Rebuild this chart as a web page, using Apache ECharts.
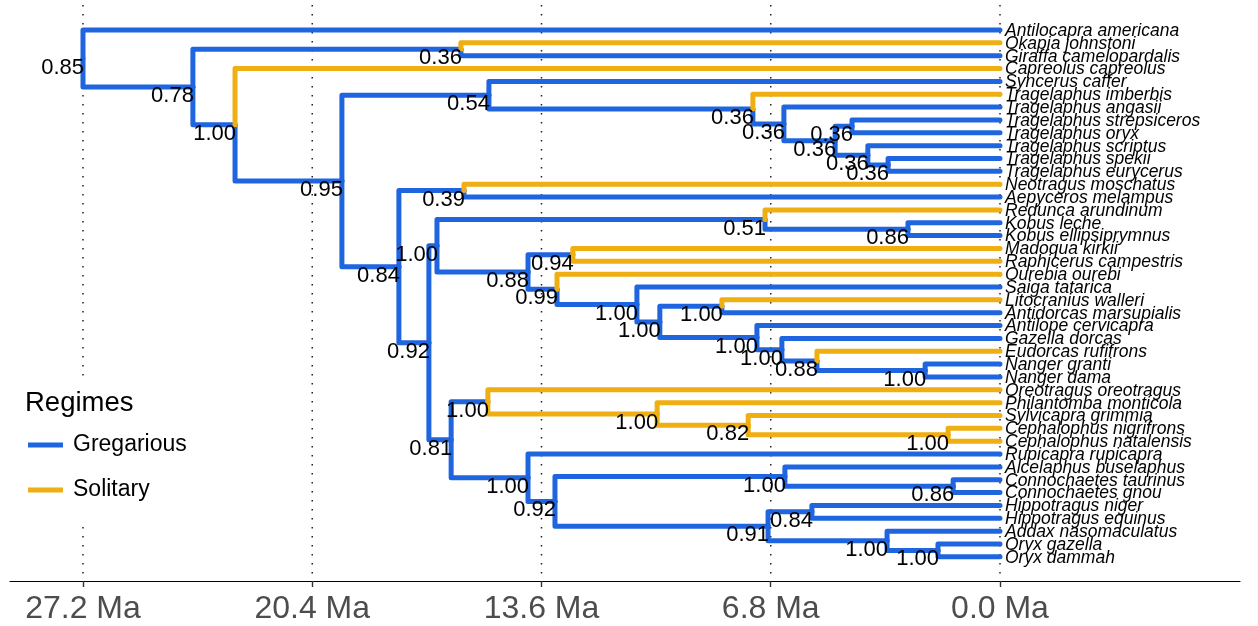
<!DOCTYPE html>
<html>
<head>
<meta charset="utf-8">
<script src="https://cdn.jsdelivr.net/npm/echarts@6/dist/echarts.min.js"></script>
<style>
  html, body { margin: 0; padding: 0; background: #fff; }
  #chart { width: 1258px; height: 626px; }
</style>
</head>
<body>
<div id="chart"></div>
<script>
// Tips, top to bottom, with their social regime (G = gregarious, S = solitary)
const tipNames = [
  'Antilocapra americana', 'Okapia johnstoni', 'Giraffa camelopardalis', 'Capreolus capreolus',
  'Syncerus caffer', 'Tragelaphus imberbis', 'Tragelaphus angasii', 'Tragelaphus strepsiceros',
  'Tragelaphus oryx', 'Tragelaphus scriptus', 'Tragelaphus spekii', 'Tragelaphus eurycerus',
  'Neotragus moschatus', 'Aepyceros melampus', 'Redunca arundinum', 'Kobus leche',
  'Kobus ellipsiprymnus', 'Madoqua kirkii', 'Raphicerus campestris', 'Ourebia ourebi',
  'Saiga tatarica', 'Litocranius walleri', 'Antidorcas marsupialis', 'Antilope cervicapra',
  'Gazella dorcas', 'Eudorcas rufifrons', 'Nanger granti', 'Nanger dama',
  'Oreotragus oreotragus', 'Philantomba monticola', 'Sylvicapra grimmia', 'Cephalophus nigrifrons',
  'Cephalophus natalensis', 'Rupicapra rupicapra', 'Alcelaphus buselaphus', 'Connochaetes taurinus',
  'Connochaetes gnou', 'Hippotragus niger', 'Hippotragus equinus', 'Addax nasomaculatus',
  'Oryx gazella', 'Oryx dammah'
];
const tipRegimes = [
  'G','S','G','S','G','S','G','G','G','G','G','G','S','G','S','G','G','S','S','S','G',
  'S','G','G','G','S','G','G','S','S','S','S','S','G','G','G','G','G','G','G','G','G'
];

// Internal nodes: id, two children, age (Ma), posterior support, regime of the incoming branch
const nodeIds = [
  'root','pecora','giraffids','ruminants','bovids','bovTrag','trag1','trag2','trag3','trag4','trag5','trag6',
  'bovRest','neoAep','bovRest2','redAnt','reduncini','kobus','antilopini','neotragini','antil2','antil3',
  'antil4','litAnt','antil5','antil6','antil7','nanger','bovRest3','duikers','duik2','duik3','cephalophus',
  'caprinae','hippoAlc','alcelaphini','connochaetes','hippotragini','hippotragus','addaxOryx','oryx'
];
const nodeChildren = [
  ['Antilocapra americana','pecora'], ['giraffids','ruminants'], ['Okapia johnstoni','Giraffa camelopardalis'],
  ['Capreolus capreolus','bovids'], ['bovTrag','bovRest'], ['Syncerus caffer','trag1'],
  ['Tragelaphus imberbis','trag2'], ['Tragelaphus angasii','trag3'], ['trag4','trag5'],
  ['Tragelaphus strepsiceros','Tragelaphus oryx'], ['Tragelaphus scriptus','trag6'],
  ['Tragelaphus spekii','Tragelaphus eurycerus'], ['neoAep','bovRest2'],
  ['Neotragus moschatus','Aepyceros melampus'], ['redAnt','bovRest3'], ['reduncini','antilopini'],
  ['Redunca arundinum','kobus'], ['Kobus leche','Kobus ellipsiprymnus'], ['neotragini','antil2'],
  ['Madoqua kirkii','Raphicerus campestris'], ['Ourebia ourebi','antil3'], ['Saiga tatarica','antil4'],
  ['litAnt','antil5'], ['Litocranius walleri','Antidorcas marsupialis'], ['Antilope cervicapra','antil6'],
  ['Gazella dorcas','antil7'], ['Eudorcas rufifrons','nanger'], ['Nanger granti','Nanger dama'],
  ['duikers','caprinae'], ['Oreotragus oreotragus','duik2'], ['Philantomba monticola','duik3'],
  ['Sylvicapra grimmia','cephalophus'], ['Cephalophus nigrifrons','Cephalophus natalensis'],
  ['Rupicapra rupicapra','hippoAlc'], ['alcelaphini','hippotragini'], ['Alcelaphus buselaphus','connochaetes'],
  ['Connochaetes taurinus','Connochaetes gnou'], ['hippotragus','addaxOryx'],
  ['Hippotragus niger','Hippotragus equinus'], ['Addax nasomaculatus','oryx'], ['Oryx gazella','Oryx dammah']
];
const nodeAges = [
  27.2, 23.94, 15.99, 22.69, 19.52, 15.16, 7.33, 6.41, 4.89, 4.39, 3.92, 3.32,
  17.83, 15.90, 16.94, 16.70, 6.97, 2.73, 14.00, 12.67, 13.14, 10.77,
  10.09, 8.25, 7.21, 6.47, 5.43, 2.22, 16.28, 15.19, 10.17, 7.47, 1.54,
  14.00, 13.20, 6.38, 1.39, 6.88, 5.58, 3.35, 1.84
];
const nodeSupport = [
  0.85, 0.78, 0.36, 1.00, 0.95, 0.54, 0.36, 0.36, 0.36, 0.36, 0.36, 0.36,
  0.84, 0.39, 0.92, 1.00, 0.51, 0.86, 0.88, 0.94, 0.99, 1.00,
  1.00, 1.00, 1.00, 1.00, 0.88, 1.00, 0.81, 1.00, 1.00, 0.82, 1.00,
  1.00, 0.92, 1.00, 0.86, 0.91, 0.84, 1.00, 1.00
];
const nodeRegimes = [
  'G','G','G','G','G','G','G','G','G','G','G','G',
  'G','G','G','G','G','G','G','G','G','G',
  'G','G','G','G','G','G','G','G','S','S','S',
  'G','G','G','G','G','G','G','G'
];

const tickValues = [27.2, 20.4, 13.6, 6.8, 0.0];
const regimeNames = { G: 'Gregarious', S: 'Solitary' };
const regimeColors = { G: '#1f65e0', S: '#efae12' };

// ---- layout: node y is the mean of its children's y, tips at 1..n ----
const yPos = {}, age = {}, regime = {};
tipNames.forEach((n, i) => { yPos[n] = i + 1; age[n] = 0; regime[n] = tipRegimes[i]; });
nodeIds.forEach((id, k) => { age[id] = nodeAges[k]; regime[id] = nodeRegimes[k]; });
function yOf(id) {
  if (yPos[id] !== undefined) return yPos[id];
  const c = nodeChildren[nodeIds.indexOf(id)];
  yPos[id] = (yOf(c[0]) + yOf(c[1])) / 2;
  return yPos[id];
}
nodeIds.forEach(yOf);

const edges = { G: [], S: [] };
nodeIds.forEach((id, k) => {
  nodeChildren[k].forEach(c => {
    edges[regime[c]].push([age[id], yPos[id], age[c], yPos[c]]);
  });
});
const supportData = nodeIds.map((id, k) => [age[id], yPos[id], nodeSupport[k]]);
const tipData = tipNames.map((n, i) => [0, i + 1]);

const FONT = '"Liberation Sans", Arial, Helvetica, sans-serif';
const Y_MIN = -0.9455, Y_MAX = 43.88;

function branchSeries(key) {
  return {
    name: regimeNames[key],
    type: 'custom',
    z: 3,
    itemStyle: { color: regimeColors[key] },
    data: edges[key],
    encode: { x: [0, 2], y: [1, 3] },
    renderItem: function (params, api) {
      const p0 = api.coord([api.value(0), api.value(1)]);
      const p1 = api.coord([api.value(0), api.value(3)]);
      const p2 = api.coord([api.value(2), api.value(3)]);
      return {
        type: 'polyline',
        shape: { points: [p0, p1, p2] },
        style: { stroke: regimeColors[key], lineWidth: 5, fill: null, lineCap: 'round', lineJoin: 'round' }
      };
    }
  };
}

const chart = echarts.init(document.getElementById('chart'));
chart.setOption({
  animation: false,
  backgroundColor: '#fff',
  color: [regimeColors.G, regimeColors.S],
  grid: { left: 10, right: 18, top: 5, bottom: 45 },
  xAxis: {
    type: 'value',
    position: 'bottom',
    inverse: true,
    min: -7.119,
    max: 29.365,
    axisLine: { show: true, onZero: false, lineStyle: { color: '#000', width: 1.2 } },
    axisTick: { show: true, length: 6, customValues: tickValues, lineStyle: { color: '#333', width: 1.4 } },
    axisLabel: {
      show: true, customValues: tickValues, margin: 12,
      fontSize: 32, fontFamily: FONT, color: '#4d4d4d',
      formatter: v => Number(v).toFixed(1) + ' Ma'
    },
    splitLine: { show: false }
  },
  yAxis: { type: 'value', inverse: true, min: Y_MIN, max: Y_MAX, show: false },
  title: {
    text: 'Regimes', left: 25, top: 389, padding: 0, z: 200,
    textStyle: { fontSize: 27.5, fontWeight: 'normal', fontFamily: FONT, color: '#000' }
  },
  legend: {
    orient: 'vertical', left: 28, top: 432, padding: 0, z: 200,
    itemWidth: 35, itemHeight: 5, itemGap: 19,
    data: [{ name: 'Gregarious', icon: 'rect' }, { name: 'Solitary', icon: 'rect' }],
    textStyle: { fontSize: 23, fontFamily: FONT, color: '#000', lineHeight: 26, padding: [0, 0, 0, 5] }
  },
  graphic: {
    elements: [{ type: 'rect', z: 100, shape: { x: 15, y: 377, width: 180, height: 150 }, style: { fill: '#fff' } }]
  },
  series: [
    {
      name: 'grid',
      type: 'custom',
      z: 1,
      silent: true,
      data: tickValues.map(v => [v]),
      encode: { x: 0 },
      renderItem: function (params, api) {
        const a = api.coord([api.value(0), Y_MIN]);
        const b = api.coord([api.value(0), Y_MAX]);
        return {
          type: 'line',
          shape: { x1: a[0], y1: a[1], x2: b[0], y2: b[1] },
          style: { stroke: '#222', lineWidth: 1.5, lineDash: [1.5, 7.5], lineCap: 'butt' }
        };
      }
    },
    branchSeries('G'),
    branchSeries('S'),
    {
      name: 'support',
      type: 'custom',
      z: 5,
      data: supportData,
      encode: { x: 0, y: 1 },
      renderItem: function (params, api) {
        const p = api.coord([api.value(0), api.value(1)]);
        return {
          type: 'text',
          x: p[0] + 1, y: p[1] + 9,
          style: {
            text: api.value(2).toFixed(2), fill: '#000',
            fontSize: 22, fontFamily: FONT, align: 'right', verticalAlign: 'middle'
          }
        };
      }
    },
    {
      name: 'tips',
      type: 'custom',
      z: 5,
      data: tipData,
      encode: { x: 0, y: 1 },
      renderItem: function (params, api) {
        const p = api.coord([api.value(0), api.value(1)]);
        return {
          type: 'text',
          x: p[0] + 5, y: p[1] + 1,
          style: {
            text: tipNames[params.dataIndex], fill: '#000',
            fontSize: 17.5, fontStyle: 'italic', fontFamily: FONT, align: 'left', verticalAlign: 'middle'
          }
        };
      }
    }
  ]
});
</script>
</body>
</html>
